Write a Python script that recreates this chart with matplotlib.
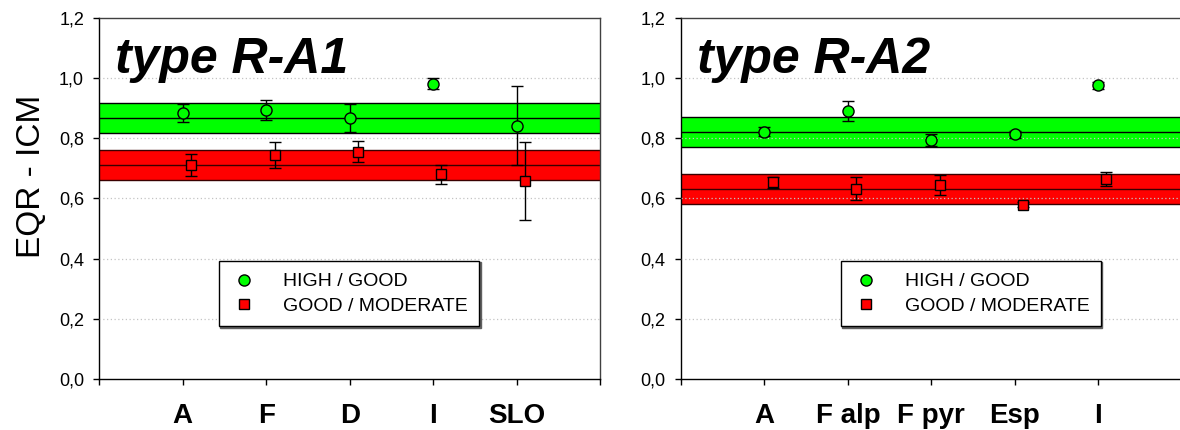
import matplotlib
matplotlib.use("Agg")
import matplotlib.pyplot as plt
from matplotlib.lines import Line2D

plt.rcParams["font.family"] = ["Liberation Sans", "DejaVu Sans"]

# ---- data -------------------------------------------------------------
cats_a1 = ["A", "F", "D", "I", "SLO"]
hg_a1 = [0.885, 0.894, 0.868, 0.981, 0.842]
hg_a1_err = [0.030, 0.032, 0.047, 0.018, 0.131]
gm_a1 = [0.712, 0.745, 0.756, 0.681, 0.658]
gm_a1_err = [0.037, 0.044, 0.034, 0.032, 0.129]
band_hg_a1 = 0.867
band_gm_a1 = 0.711

cats_a2 = ["A", "F alp", "F pyr", "Esp", "I"]
hg_a2 = [0.822, 0.891, 0.795, 0.813, 0.976]
hg_a2_err = [0.015, 0.033, 0.020, 0.012, 0.012]
gm_a2 = [0.654, 0.633, 0.644, 0.580, 0.664]
gm_a2_err = [0.018, 0.039, 0.033, 0.008, 0.023]
band_hg_a2 = 0.822
band_gm_a2 = 0.631

band_half = 0.05
yticks = [0.0, 0.2, 0.4, 0.6, 0.8, 1.0, 1.2]
ytick_labels = ["0,0", "0,2", "0,4", "0,6", "0,8", "1,0", "1,2"]

GREEN = "#00ff00"
RED = "#ff0000"

W, H = 1180, 430
fig = plt.figure(figsize=(W / 100, H / 100), dpi=100)


def px_axes(left, right, top, bottom):
    return fig.add_axes([left / W, (H - bottom) / H, (right - left) / W, (bottom - top) / H])


def panel(ax, title, cats, hg, hg_err, gm, gm_err, band_hg, band_gm, leg_x):
    xs = list(range(1, len(cats) + 1))
    ax.set_xlim(0, 6)
    ax.set_ylim(0, 1.2)

    # class-boundary bands
    for centre, col, edge in ((band_hg, GREEN, "black"), (band_gm, RED, "#3a0000")):
        ax.axhspan(centre - band_half, centre + band_half, facecolor=col,
                   edgecolor="none", zorder=1)
        for yy in (centre - band_half, centre, centre + band_half):
            ax.axhline(yy, color=edge, lw=1.0, zorder=2)

    ax.set_yticks(yticks)
    ax.set_yticklabels(ytick_labels, fontsize=13)
    ax.set_xticks(range(0, 7))
    ax.set_xticklabels([""] + cats + [""], fontsize=20, fontweight="bold")
    ax.tick_params(axis="y", direction="out", length=4, width=1, pad=7)
    ax.tick_params(axis="x", direction="out", length=4, width=1, pad=13.5)

    ax.set_axisbelow(False)
    ax.yaxis.grid(True, color="#c4c4c4", lw=0.9, linestyle=(0, (1, 2)))
    ax.xaxis.grid(False)
    gl = ax.get_ygridlines()
    gl[0].set_visible(False)
    gl[-1].set_visible(False)

    ax.errorbar(xs, hg, yerr=hg_err, fmt="o", ms=8, mfc=GREEN, mec="black",
                mew=1.0, ecolor="black", elinewidth=1.0, capsize=4, capthick=1.0,
                zorder=4)
    ax.errorbar([x + 0.1 for x in xs], gm, yerr=gm_err, fmt="s", ms=7, mfc=RED,
                mec="black", mew=1.0, ecolor="black", elinewidth=1.0, capsize=4,
                capthick=1.0, zorder=4)

    for side in ("left", "bottom"):
        ax.spines[side].set_color("black")
        ax.spines[side].set_linewidth(1.0)
    for side in ("top", "right"):
        ax.spines[side].set_color("#404040")
        ax.spines[side].set_linewidth(1.0)

    ax.text(0.032, 0.848, title, transform=ax.transAxes, fontsize=36,
            fontweight="bold", fontstyle="italic", va="baseline", ha="left",
            zorder=6)

    handles = [
        Line2D([], [], ls="none", marker="o", ms=8, mfc=GREEN, mec="black", mew=1.0),
        Line2D([], [], ls="none", marker="s", ms=7, mfc=RED, mec="black", mew=1.0),
    ]
    leg = ax.legend(handles, ["HIGH / GOOD", "GOOD / MODERATE"], loc="center",
                    bbox_to_anchor=(leg_x, 0.236), fontsize=14, frameon=True,
                    fancybox=False, borderpad=0.6, labelspacing=0.35,
                    handletextpad=1.3, handlelength=1.4, borderaxespad=0,
                    shadow={"ox": 0.8, "oy": -0.8, "color": "#606060", "alpha": 1.0})
    leg.get_frame().set_edgecolor("black")
    leg.get_frame().set_linewidth(1.0)
    leg.set_zorder(7)


ax1 = px_axes(99.3, 600, 18, 379)
panel(ax1, "type R-A1", cats_a1, hg_a1, hg_a1_err, gm_a1, gm_a1_err,
      band_hg_a1, band_gm_a1, 0.499)
ax1.set_ylabel("EQR - ICM", fontsize=24)
ax1.yaxis.set_label_coords(-0.105, 0.56)

ax2 = px_axes(681, 1181.5, 18, 379)
panel(ax2, "type R-A2", cats_a2, hg_a2, hg_a2_err, gm_a2, gm_a2_err,
      band_hg_a2, band_gm_a2, 0.5795)

fig.savefig("out.png", dpi=100)
